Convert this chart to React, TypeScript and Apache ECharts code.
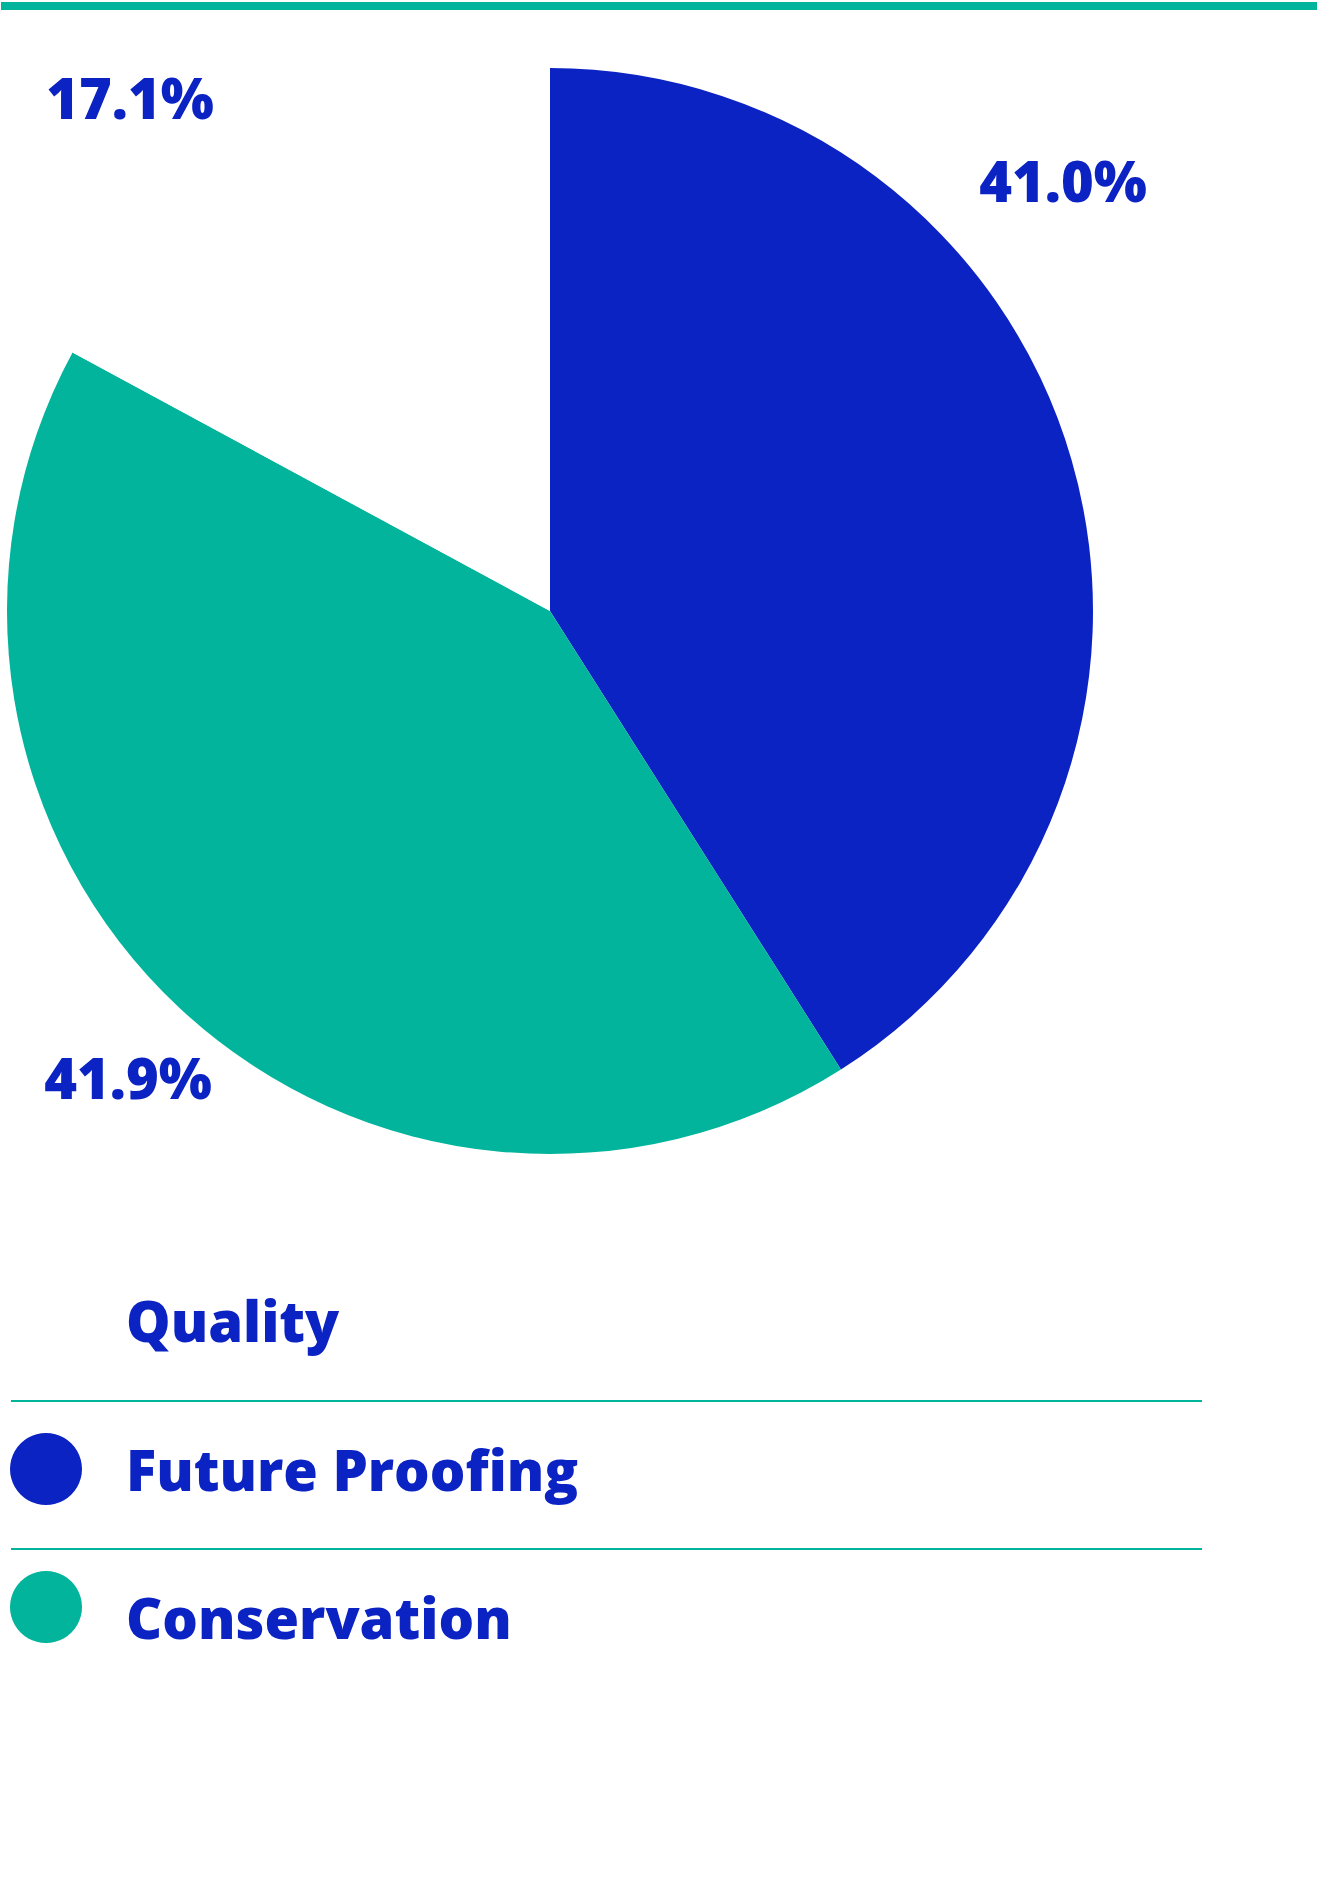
import React, { useEffect, useRef } from "react";
import * as echarts from "echarts";

const CATEGORIES = ["Future Proofing", "Conservation", "Quality"];
const VALUES = [41.0, 41.9, 17.1];
const COLORS = ["#0c23c4", "#02b49c", "#ffffff"];
const LEGEND_ORDER = ["Quality", "Future Proofing", "Conservation"];

const BLUE = "#0c23c4";
const TEAL = "#02b49c";
const FONT = "'Open Sans', 'Noto Sans', sans-serif";

// label anchor positions (layout only)
const LABEL_POS: [number, number][] = [
  [1063, 180],
  [128, 1077],
  [130, 97],
];

const richBase = {
  color: BLUE,
  fontFamily: FONT,
  fontWeight: 800,
  fontSize: 56,
};

export default function App() {
  const ref = useRef<HTMLDivElement>(null);

  useEffect(() => {
    document.body.style.margin = "0";
    if (!ref.current) return;
    const chart = echarts.init(ref.current, undefined, { renderer: "svg" });
    const data = CATEGORIES.map((name, i) => ({
      name,
      value: VALUES[i],
      itemStyle: { color: COLORS[i] },
    }));
    chart.setOption({
      animation: false,
      backgroundColor: "#ffffff",
      legend: {
        data: LEGEND_ORDER,
        orient: "vertical",
        left: 10,
        top: 1292,
        padding: 0,
        icon: "circle",
        itemWidth: 72,
        itemHeight: 72,
        itemGap: 66,
        selectedMode: false,
        formatter: (name: string) => {
          const key = name === "Quality" ? "q" : name === "Conservation" ? "c" : "f";
          return `{${key}|${name}}`;
        },
        textStyle: {
          ...richBase,
          padding: [0, 0, 0, 39],
          rich: {
            q: { ...richBase, padding: [0, 0, 22, 0] },
            f: { ...richBase },
            c: { ...richBase, padding: [20, 0, 0, 0] },
          },
        },
      },
      graphic: [
        {
          type: "rect",
          shape: { x: 1, y: 2, width: 1316, height: 8 },
          style: { fill: TEAL },
        },
        {
          type: "line",
          shape: { x1: 11, y1: 1401, x2: 1202, y2: 1401 },
          style: { stroke: TEAL, lineWidth: 2 },
        },
        {
          type: "line",
          shape: { x1: 11, y1: 1549, x2: 1202, y2: 1549 },
          style: { stroke: TEAL, lineWidth: 2 },
        },
      ],
      series: [
        {
          type: "pie",
          center: [550, 611],
          radius: 543,
          startAngle: 90,
          clockwise: true,
          data,
          emphasis: { disabled: true },
          itemStyle: { borderWidth: 0 },
          label: {
            show: true,
            position: "outside",
            overflow: "none",
            formatter: (p: any) => Number(p.value).toFixed(1) + "%",
            ...richBase,
          },
          labelLine: { show: false },
          labelLayout: (p: any) => ({
            x: LABEL_POS[p.dataIndex][0],
            y: LABEL_POS[p.dataIndex][1],
            align: "center",
            verticalAlign: "middle",
          }),
        },
      ],
    });
    return () => chart.dispose();
  }, []);

  return <div ref={ref} style={{ width: 1318, height: 1898 }} />;
}
